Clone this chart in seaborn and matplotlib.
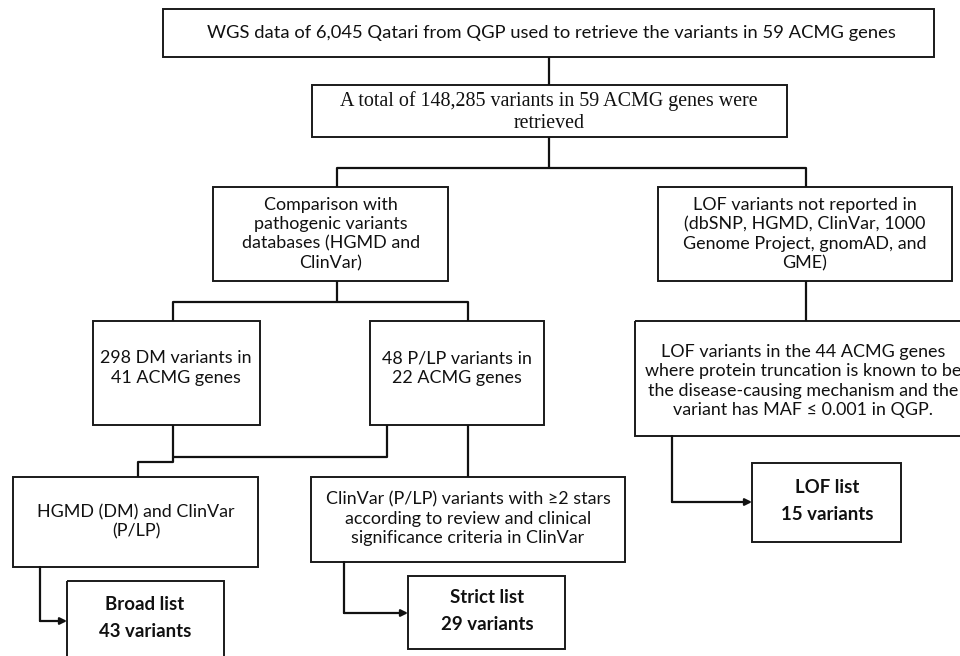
import matplotlib
matplotlib.use("Agg")
import matplotlib.pyplot as plt
import seaborn as sns
from matplotlib.patches import Rectangle

sns.set_theme(style="white")
plt.rcParams['font.family'] = ['Lato', 'DejaVu Sans']

# ---- content ----
box_names = ["top", "total", "comp", "lof1", "dm", "plp", "lof2",
             "hgmd", "clinvar", "broad", "strict", "loflist"]
box_texts = [
    "WGS data of 6,045 Qatari from QGP used to retrieve the variants in 59 ACMG genes",
    "A total of 148,285 variants in 59 ACMG genes were\nretrieved",
    "Comparison with\npathogenic variants\ndatabases (HGMD and\nClinVar)",
    "LOF variants not reported in\n(dbSNP, HGMD, ClinVar, 1000\nGenome Project, gnomAD, and\nGME)",
    "298 DM variants in\n41 ACMG genes",
    "48 P/LP variants in\n22 ACMG genes",
    "LOF variants in the 44 ACMG genes\nwhere protein truncation is known to be\nthe disease-causing mechanism and the\nvariant has MAF \u2264 0.001 in QGP.",
    "HGMD (DM) and ClinVar\n(P/LP)",
    "ClinVar (P/LP) variants with \u22652 stars\naccording to review and clinical\nsignificance criteria in ClinVar",
    "Broad list\n43 variants",
    "Strict list\n29 variants",
    "LOF list\n15 variants",
]

# ---- layout (pixel coords, y downward) ----
box_rects = {
    "top": (163, 9, 934, 57),
    "total": (312, 85, 787, 137),
    "comp": (213, 187, 448, 281),
    "lof1": (658, 187, 952, 281),
    "dm": (93, 321, 260, 425),
    "plp": (370, 321, 544, 425),
    "lof2": (635, 321, 985, 436),
    "hgmd": (13, 477, 258, 567),
    "clinvar": (311, 477, 625, 562),
    "broad": (67, 581, 224, 680),
    "strict": (408, 576, 565, 649),
    "loflist": (752, 463, 901, 542),
}
text_pos = {
    "top": (551, 33), "total": (549, 112), "comp": (331, 234), "lof1": (805, 234),
    "dm": (176, 368), "plp": (457, 368), "lof2": (803, 381),
    "hgmd": (136, 522), "clinvar": (468, 519),
    "broad": (145, 618), "strict": (487, 611), "loflist": (827, 501),
}
lines = [
    [(549, 57), (549, 85)],
    [(549, 137), (549, 168)],
    [(337, 187), (337, 168), (806, 168), (806, 187)],
    [(337, 281), (337, 302)],
    [(173, 321), (173, 302), (468, 302), (468, 321)],
    [(806, 281), (806, 321)],
    [(173, 425), (173, 457), (387, 457), (387, 425)],
    [(138, 477), (138, 462), (173, 462), (173, 457)],
    [(468, 425), (468, 477)],
]
arrows = [
    [(40, 567), (40, 621), (67, 621)],
    [(344, 562), (344, 613), (408, 613)],
    [(672, 436), (672, 502), (752, 502)],
]

fig = plt.figure(figsize=(9.6, 6.56), dpi=100)
ax = fig.add_axes([0, 0, 1, 1])
ax.set_xlim(0, 960)
ax.set_ylim(656, 0)
ax.axis("off")

for name, txt in zip(box_names, box_texts):
    x0, y0, x1, y1 = box_rects[name]
    ax.add_patch(Rectangle((x0, y0), x1 - x0, y1 - y0, fill=False,
                           edgecolor="#1a1a1a", linewidth=1.4))
    tx, ty = text_pos[name]
    if name == "total":
        ax.text(tx, ty, txt, ha="center", va="center", fontsize=14.4,
                family=["Liberation Serif", "DejaVu Serif"], linespacing=1.17,
                color="#111111")
    elif name in ("broad", "strict", "loflist"):
        ax.text(tx, ty, txt, ha="center", va="center", fontsize=13.4,
                fontweight="bold", linespacing=1.65, color="#111111")
    elif name == "top":
        ax.text(tx, ty, txt, ha="center", va="center", fontsize=13.2,
                color="#111111")
    else:
        t = ax.text(tx, ty, txt, ha="center", va="center", fontsize=12.9,
                    linespacing=1.25, color="#111111")
        t.set_clip_on(True)

for pts in lines:
    xs, ys = zip(*pts)
    ax.plot(xs, ys, color="#111111", linewidth=1.6, solid_capstyle="butt")

for pts in arrows:
    xs, ys = zip(*pts)
    ax.plot(xs[:-1], ys[:-1], color="#111111", linewidth=1.6)
    ax.annotate("", xy=pts[-1], xytext=pts[-2],
                arrowprops=dict(arrowstyle="-|>", color="#111111", lw=1.6,
                                mutation_scale=10, shrinkA=0, shrinkB=0))

fig.savefig("out.png", dpi=100)
